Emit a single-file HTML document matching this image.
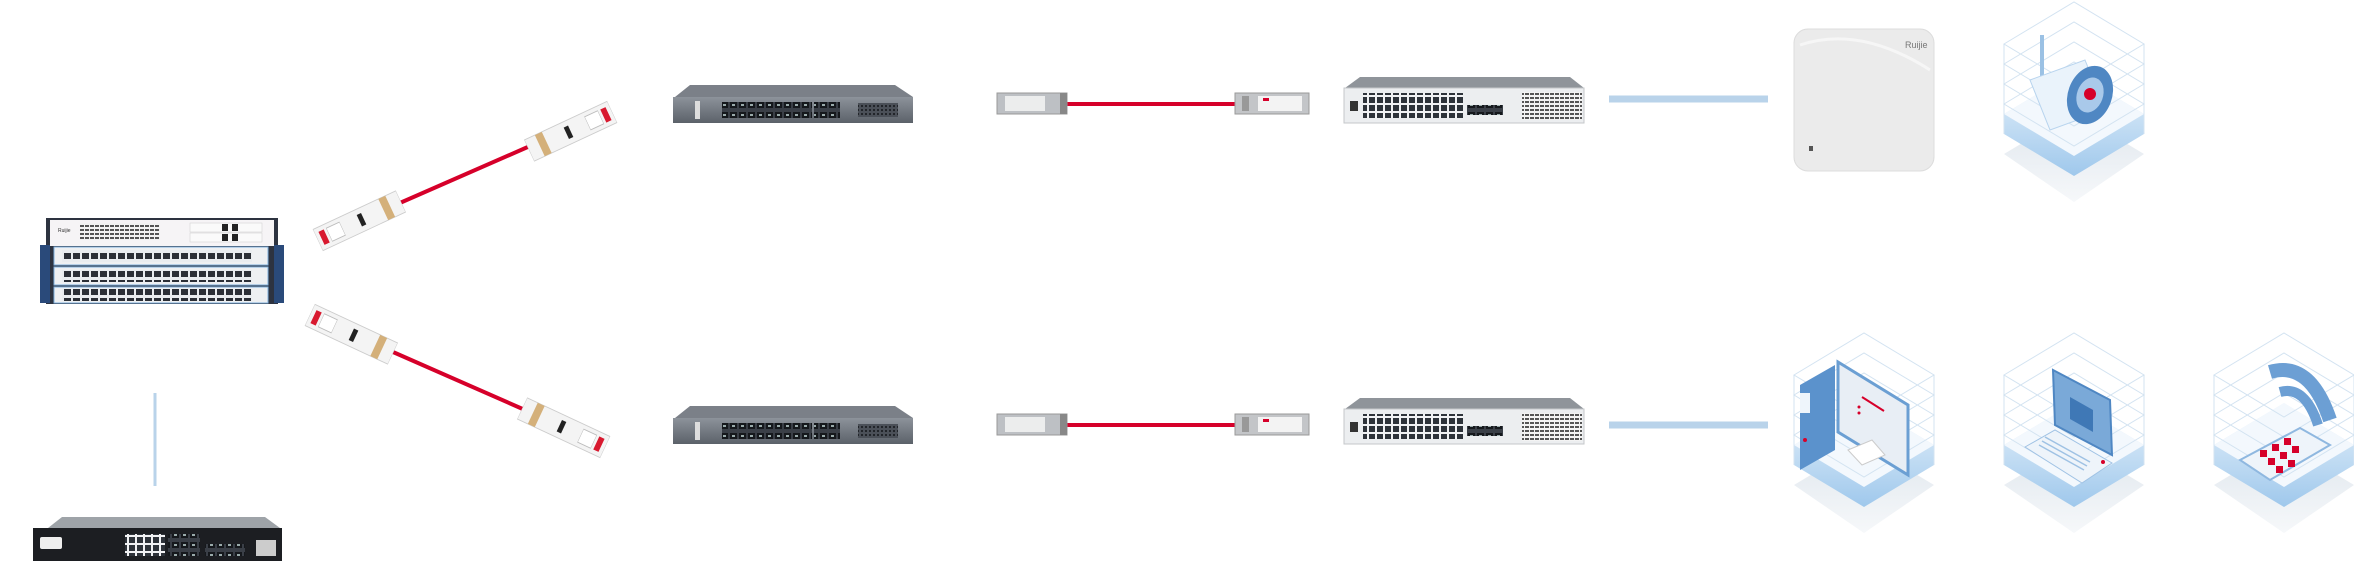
<!DOCTYPE html>
<html><head><meta charset="utf-8"><style>html,body{margin:0;padding:0;background:#fff}svg{display:block}</style></head>
<body>
<svg width="2354" height="584" viewBox="0 0 2354 584" xmlns="http://www.w3.org/2000/svg">
<defs>
<pattern id="rj" width="9" height="9" patternUnits="userSpaceOnUse"><rect width="9" height="9" fill="#e9ecef"/><rect x="1" y="1" width="7" height="6" fill="#2b2f36"/></pattern>
<pattern id="sfp" width="9" height="10" patternUnits="userSpaceOnUse"><rect width="9" height="10" fill="#3a3f47"/><rect x="1" y="2" width="7" height="6" fill="#15181c"/><rect x="3" y="4" width="3" height="2" fill="#9aa"/></pattern>
<pattern id="rj2" width="8" height="8" patternUnits="userSpaceOnUse"><rect width="8" height="8" fill="#f1f2f4"/><rect x="1" y="1" width="6" height="6" fill="#2e333a"/></pattern>
<pattern id="vent" width="5" height="4" patternUnits="userSpaceOnUse"><rect width="5" height="4" fill="#f3f3f3"/><rect x="0" y="1" width="4" height="2" fill="#555"/></pattern>
<pattern id="vent2" width="4" height="4" patternUnits="userSpaceOnUse"><rect width="4" height="4" fill="#4b5058"/><rect x="1" y="1" width="2" height="2" fill="#22252a"/></pattern>
<linearGradient id="base" x1="0" y1="0" x2="0" y2="1"><stop offset="0" stop-color="#e9f3fb"/><stop offset="1" stop-color="#9fc8ec"/></linearGradient>
<linearGradient id="shd" x1="0" y1="0" x2="0" y2="1"><stop offset="0" stop-color="#dfe6ed"/><stop offset="1" stop-color="#f6f8fa"/></linearGradient>
<linearGradient id="gsw" x1="0" y1="0" x2="0" y2="1"><stop offset="0" stop-color="#8d939b"/><stop offset="1" stop-color="#5b6169"/></linearGradient>
<g id="tile">
 <polygon points="0,152 70,110 140,152 70,200" fill="url(#shd)"/>
 <polygon points="0,112 70,70 140,112 140,132 70,174 0,132" fill="url(#base)"/>
 <polygon points="0,112 70,70 140,112 70,154" fill="#f3f8fd"/>
 <g fill="none" stroke="#d3e3f1" stroke-width="1">
  <polygon points="0,42 70,0 140,42 70,84"/>
  <polygon points="0,62 70,20 140,62 70,104"/>
  <polygon points="0,82 70,40 140,82 70,124"/>
  <polygon points="0,102 70,60 140,102 70,144"/>
  <line x1="0" y1="42" x2="0" y2="132"/><line x1="140" y1="42" x2="140" y2="132"/>
 </g>
</g>
<g id="sfpmod">
 <rect x="0" y="0" width="190" height="26" fill="#f4f4f4" stroke="#ccc"/>
 <rect x="8" y="5" width="12" height="16" fill="#d8192f"/>
 <rect x="26" y="5" width="30" height="16" fill="#fff" stroke="#bbb"/>
 <rect x="95" y="6" width="10" height="14" fill="#222"/>
 <rect x="150" y="0" width="16" height="26" fill="#d4b07a"/>
</g>
</defs>

<!-- connectors -->
<line x1="155" y1="393" x2="155" y2="486" stroke="#b9d3ea" stroke-width="3"/>
<line x1="393" y1="206" x2="530" y2="146" stroke="#d6002a" stroke-width="4"/>
<line x1="393" y1="352" x2="525" y2="410" stroke="#d6002a" stroke-width="4"/>
<line x1="1067" y1="104" x2="1235" y2="104" stroke="#d6002a" stroke-width="4"/>
<line x1="1067" y1="425" x2="1235" y2="425" stroke="#d6002a" stroke-width="4"/>
<line x1="1609" y1="99" x2="1768" y2="99" stroke="#b9d3ea" stroke-width="7"/>
<line x1="1609" y1="425" x2="1768" y2="425" stroke="#b9d3ea" stroke-width="7"/>

<!-- SFP modules diagonal -->
<g transform="translate(318,240) rotate(-25) scale(0.48,0.9) translate(0,-13)"><use href="#sfpmod"/></g>
<g transform="translate(612,112) rotate(155) scale(0.48,0.9) translate(0,-13)"><use href="#sfpmod"/></g>
<g transform="translate(310,315) rotate(25) scale(0.48,0.9) translate(0,-13)"><use href="#sfpmod"/></g>
<g transform="translate(605,447) rotate(205) scale(0.48,0.9) translate(0,-13)"><use href="#sfpmod"/></g>

<!-- Core chassis -->
<g>
 <rect x="46" y="218" width="232" height="86" fill="#2d3340"/>
 <rect x="40" y="245" width="10" height="58" fill="#2a4a7a"/>
 <rect x="274" y="245" width="10" height="58" fill="#2a4a7a"/>
 <rect x="50" y="220" width="224" height="26" fill="#f6f4f6"/>
 <rect x="80" y="223" width="80" height="17" fill="url(#vent)"/>
 <rect x="190" y="223" width="72" height="9" fill="#fafafa" stroke="#ccc" stroke-width="0.5"/>
 <rect x="190" y="233" width="72" height="9" fill="#fafafa" stroke="#ccc" stroke-width="0.5"/>
 <rect x="222" y="224" width="6" height="7" fill="#222"/><rect x="232" y="224" width="6" height="7" fill="#222"/>
 <rect x="222" y="234" width="6" height="7" fill="#222"/><rect x="232" y="234" width="6" height="7" fill="#222"/>
 <text x="58" y="232" font-family="Liberation Sans, sans-serif" font-size="5" fill="#333">Ruijie</text>
 <rect x="54" y="247" width="214" height="18" fill="#eef0f2" stroke="#7fb0de"/>
 <rect x="62" y="250" width="190" height="12" fill="url(#rj)"/>
 <rect x="54" y="267" width="214" height="18" fill="#eef0f2" stroke="#7fb0de"/>
 <rect x="62" y="270" width="190" height="12" fill="url(#rj)"/>
 <rect x="54" y="287" width="214" height="16" fill="#eef0f2" stroke="#7fb0de"/>
 <rect x="62" y="289" width="190" height="12" fill="url(#rj)"/>
</g>

<!-- Firewall -->
<g>
 <polygon points="48,528 62,517 265,517 280,528" fill="#9ea3a8"/>
 <rect x="33" y="528" width="249" height="33" fill="#1c1e22"/>
 <rect x="40" y="537" width="22" height="12" fill="#eee" rx="2"/>
 <rect x="125" y="534" width="40" height="22" fill="url(#rj2)"/>
 <rect x="168" y="534" width="32" height="22" fill="url(#sfp)"/>
 <rect x="205" y="544" width="40" height="12" fill="url(#sfp)"/>
 <rect x="256" y="540" width="20" height="16" fill="#ccc"/>
</g>

<!-- Aggregation switches -->
<g id="agg">
 <polygon points="675,97 690,85 895,85 913,97" fill="#7b8088"/>
 <rect x="673" y="97" width="240" height="26" fill="url(#gsw)"/>
 <rect x="695" y="101" width="5" height="18" fill="#ddd"/>
 <rect x="722" y="102" width="90" height="16" fill="url(#sfp)"/>
 <rect x="814" y="102" width="26" height="16" fill="url(#sfp)"/>
 <rect x="858" y="103" width="40" height="14" fill="url(#vent2)"/>
</g>
<use href="#agg" transform="translate(0,321)"/>

<!-- small SFPs -->
<g id="sf">
 <rect x="997" y="93" width="70" height="21" fill="#bdc0c4" stroke="#999"/>
 <rect x="1005" y="96" width="40" height="15" fill="#eceded"/>
 <rect x="1060" y="93" width="7" height="21" fill="#888"/>
 <rect x="1235" y="93" width="74" height="21" fill="#c3c5c8" stroke="#999"/>
 <rect x="1242" y="96" width="7" height="15" fill="#999"/>
 <rect x="1258" y="96" width="44" height="15" fill="#f3f3f3"/>
 <rect x="1263" y="98" width="6" height="3" fill="#d6002a"/>
</g>
<use href="#sf" transform="translate(0,321)"/>

<!-- Access switches -->
<g id="acc">
 <polygon points="1345,88 1360,77 1570,77 1584,88" fill="#8f949a"/>
 <rect x="1344" y="88" width="240" height="35" fill="#eceef0" stroke="#c4c7ca"/>
 <rect x="1363" y="93" width="100" height="25" fill="url(#rj2)"/>
 <rect x="1467" y="105" width="36" height="10" fill="url(#sfp)"/>
 <rect x="1522" y="92" width="60" height="28" fill="url(#vent)"/>
 <rect x="1350" y="101" width="8" height="10" fill="#333"/>
</g>
<use href="#acc" transform="translate(0,321)"/>

<!-- AP -->
<rect x="1794" y="29" width="140" height="142" rx="14" fill="#ebebeb" stroke="#dcdcdc"/>
<path d="M1800 45 Q1860 25 1930 70" stroke="#f6f6f6" stroke-width="3" fill="none"/>
<text x="1905" y="48" font-family="Liberation Sans, sans-serif" font-size="9" fill="#777">Ruijie</text>
<rect x="1809" y="146" width="4" height="5" fill="#555"/>

<!-- Tiles -->
<use href="#tile" transform="translate(2004,2)"/>
<use href="#tile" transform="translate(1794,333)"/>
<use href="#tile" transform="translate(2004,333)"/>
<use href="#tile" transform="translate(2214,333)"/>

<!-- camera icon -->
<g>
 <rect x="2040" y="35" width="4" height="50" fill="#9bc1e4"/>
 <polygon points="2030,80 2085,60 2105,110 2050,130" fill="#eaf3fb" stroke="#b8d4ee"/>
 <ellipse cx="2090" cy="95" rx="22" ry="30" fill="#4f87c3" transform="rotate(20 2090 95)"/>
 <ellipse cx="2090" cy="95" rx="13" ry="18" fill="#a9c9ea" transform="rotate(20 2090 95)"/>
 <circle cx="2090" cy="94" r="6" fill="#d6002a"/>
</g>
<!-- desktop icon -->
<g>
 <polygon points="1800,385 1835,365 1835,450 1800,470" fill="#5b92cc"/>
 <rect x="1800" y="393" width="10" height="20" fill="#eef5fb"/>
 <circle cx="1805" cy="440" r="2" fill="#d6002a"/>
 <polygon points="1838,362 1908,405 1908,475 1838,432" fill="#e8eef5" stroke="#6b9fd3" stroke-width="3"/>
 <line x1="1862" y1="397" x2="1884" y2="411" stroke="#d6002a" stroke-width="2"/>
 <circle cx="1859" cy="407" r="1.5" fill="#d6002a"/><circle cx="1859" cy="413" r="1.5" fill="#d6002a"/>
 <polygon points="1848,450 1872,440 1885,455 1862,465" fill="#fff" stroke="#ccc"/>
</g>
<!-- laptop icon -->
<g>
 <polygon points="2053,370 2110,400 2112,455 2055,425" fill="#7aa9d8" stroke="#4f87c3" stroke-width="2"/>
 <polygon points="2070,397 2093,410 2093,432 2070,419" fill="#3f78b6"/>
 <polygon points="2025,447 2055,430 2112,463 2082,483" fill="#eef4fa" stroke="#9fc2e4"/>
 <g stroke="#9fc2e4" stroke-width="1.5"><line x1="2045" y1="437" x2="2090" y2="462"/><line x1="2042" y1="441" x2="2087" y2="466"/><line x1="2039" y1="445" x2="2084" y2="470"/></g>
 <circle cx="2103" cy="462" r="2" fill="#d6002a"/>
</g>
<!-- phone icon -->
<g>
 <path d="M2270 372 Q2310 360 2330 420" stroke="#6c9fd4" stroke-width="14" fill="none"/>
 <path d="M2280 392 Q2305 385 2318 425" stroke="#6c9fd4" stroke-width="10" fill="none"/>
 <polygon points="2240,460 2300,428 2330,445 2270,480" fill="#eef4fa" stroke="#8fb8e0" stroke-width="2"/>
 <g fill="#d6002a">
  <rect x="2260" y="450" width="7" height="7"/><rect x="2272" y="444" width="7" height="7"/><rect x="2284" y="438" width="7" height="7"/>
  <rect x="2268" y="458" width="7" height="7"/><rect x="2280" y="452" width="7" height="7"/><rect x="2292" y="446" width="7" height="7"/>
  <rect x="2276" y="466" width="7" height="7"/><rect x="2288" y="460" width="7" height="7"/>
 </g>
</g>
</svg>
</body></html>
